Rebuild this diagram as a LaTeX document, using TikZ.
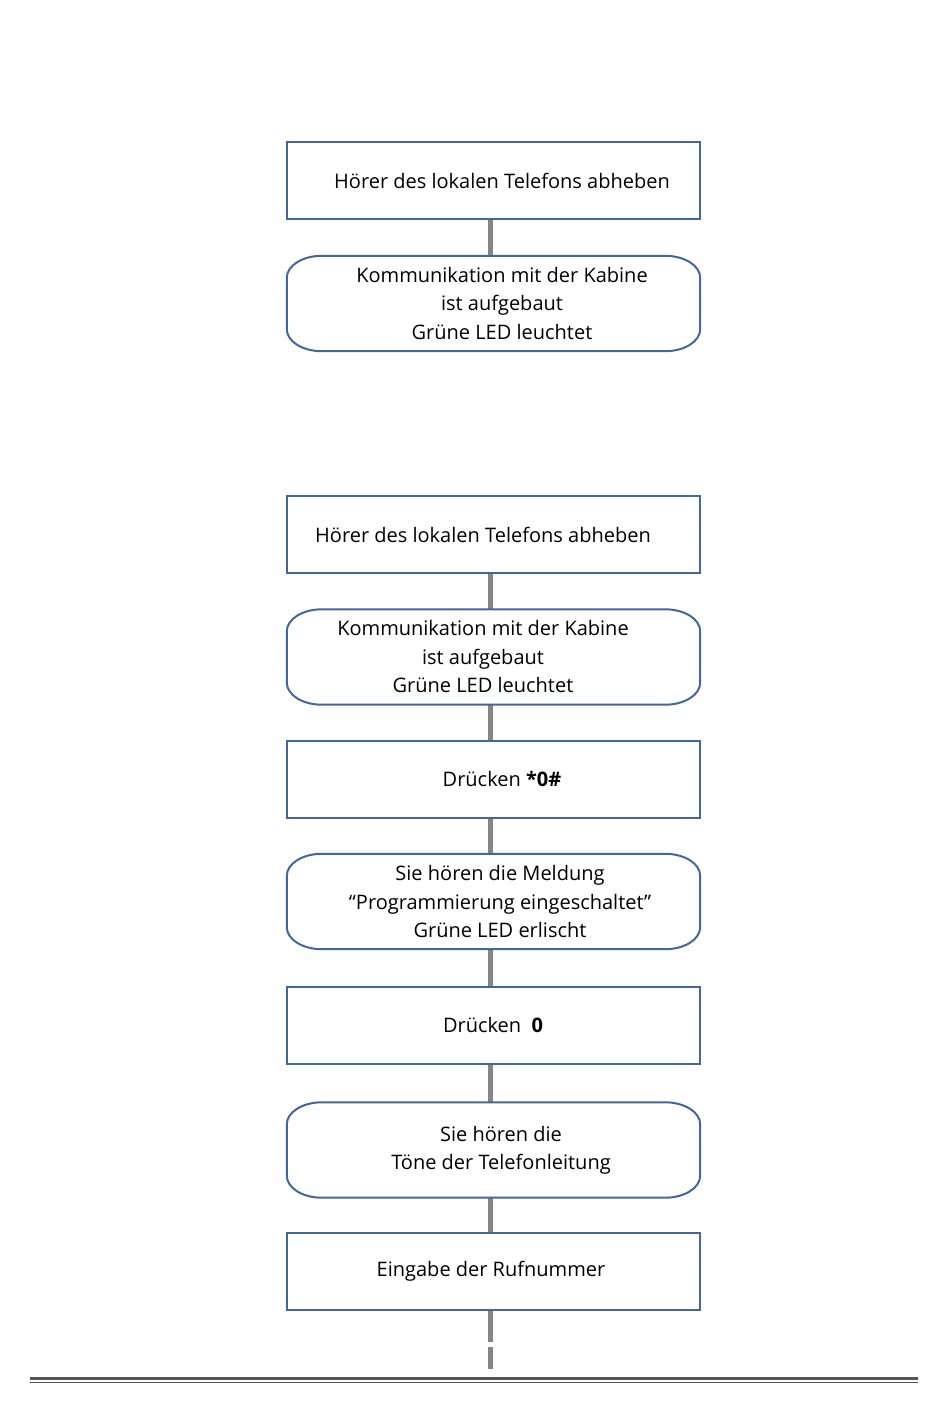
\documentclass[tikz,border=0pt]{standalone}
\usepackage{fontspec}
\setmainfont{Open Sans}
\definecolor{boxblue}{HTML}{41679B}
\definecolor{conngray}{HTML}{858585}
\definecolor{rulegray}{HTML}{555555}
\tikzset{
  procbox/.style={draw=boxblue, line width=2pt, minimum width=413pt, minimum height=77pt, inner sep=0pt},
  termbox/.style={draw=none, minimum width=413pt, minimum height=95pt, inner sep=0pt},
  termline/.style={draw=boxblue, line width=2pt},
  conn/.style={draw=conngray, line width=5pt},
  txt/.style={font=\fontsize{20}{28.5}\selectfont, align=center, inner sep=0pt}
}
\newcommand{\termoutline}[1]{%
  \draw[termline] ([xshift=35pt]#1.north west) -- ([xshift=-35pt]#1.north east)
    arc[start angle=90,end angle=0,x radius=35pt,y radius=22pt]
    -- ([yshift=22pt]#1.south east)
    arc[start angle=0,end angle=-90,x radius=35pt,y radius=22pt]
    -- ([xshift=35pt]#1.south west)
    arc[start angle=270,end angle=180,x radius=35pt,y radius=22pt]
    -- ([yshift=-22pt]#1.north west)
    arc[start angle=180,end angle=90,x radius=35pt,y radius=22pt] -- cycle;}
\begin{document}
\begin{tikzpicture}[x=1pt,y=-1pt]
\useasboundingbox (0,0) rectangle (950,1411);
% group 1
\node[procbox] (a1) at (493.5,180.5) {};
\node[txt] (a1t) at (502,180.5) {Hörer des lokalen Telefons abheben};
\node[termbox] (a2) at (493.5,303.5) {};
\node[txt] (a2t) at (502,303) {Kommunikation mit der Kabine\\ist aufgebaut\\Grüne LED leuchtet};
\draw[conn] ([xshift=-3.5pt]a1.south) -- ([xshift=-3.5pt]a2.north);
\termoutline{a2}
% group 2
\node[procbox] (b1) at (493.5,534.5) {};
\node[txt] (b1t) at (483,534.5) {Hörer des lokalen Telefons abheben};
\node[termbox] (b2) at (493.5,657) {};
\node[txt] (b2t) at (483,656.5) {Kommunikation mit der Kabine\\ist aufgebaut\\Grüne LED leuchtet};
\node[procbox] (b3) at (493.5,779) {};
\node[txt] (b3t) at (502,779) {Drücken \textbf{*0\#}};
\node[termbox] (b4) at (493.5,901.5) {};
\node[txt] (b4t) at (500,901.5) {Sie hören die Meldung\\“Programmierung eingeschaltet”\\Grüne LED erlischt};
\node[procbox] (b5) at (493.5,1025) {};
\node[txt] (b5t) at (493,1025) {Drücken\ \ \textbf{0}};
\node[termbox] (b6) at (493.5,1150) {};
\node[txt] (b6t) at (501,1150.5) {Sie hören die\\Töne der Telefonleitung};
\node[procbox] (b7) at (493.5,1271.5) {};
\node[txt] (b7t) at (491,1271.5) {Eingabe der Rufnummer};
\draw[conn] ([xshift=-3.5pt]b1.south) -- ([xshift=-3.5pt]b2.north);
\draw[conn] ([xshift=-3.5pt]b2.south) -- ([xshift=-3.5pt]b3.north);
\draw[conn] ([xshift=-3.5pt]b3.south) -- ([xshift=-3.5pt]b4.north);
\draw[conn] ([xshift=-3.5pt]b4.south) -- ([xshift=-3.5pt]b5.north);
\draw[conn] ([xshift=-3.5pt]b5.south) -- ([xshift=-3.5pt]b6.north);
\draw[conn] ([xshift=-3.5pt]b6.south) -- ([xshift=-3.5pt]b7.north);
\coordinate (d1) at (490,1342);
\coordinate (d2) at (490,1347);
\coordinate (d3) at (490,1369);
\draw[conn] ([xshift=-3.5pt]b7.south) -- (d1);
\draw[conn] (d2) -- (d3);
\termoutline{b2}
\termoutline{b4}
\termoutline{b6}
% bottom rule
\coordinate (r1) at (30,1378);
\coordinate (r2) at (918,1378);
\coordinate (r3) at (30,1382.5);
\coordinate (r4) at (918,1382.5);
\draw[rulegray, line width=3pt] (r1) -- (r2);
\draw[rulegray, line width=1pt] (r3) -- (r4);
\end{tikzpicture}
\end{document}
